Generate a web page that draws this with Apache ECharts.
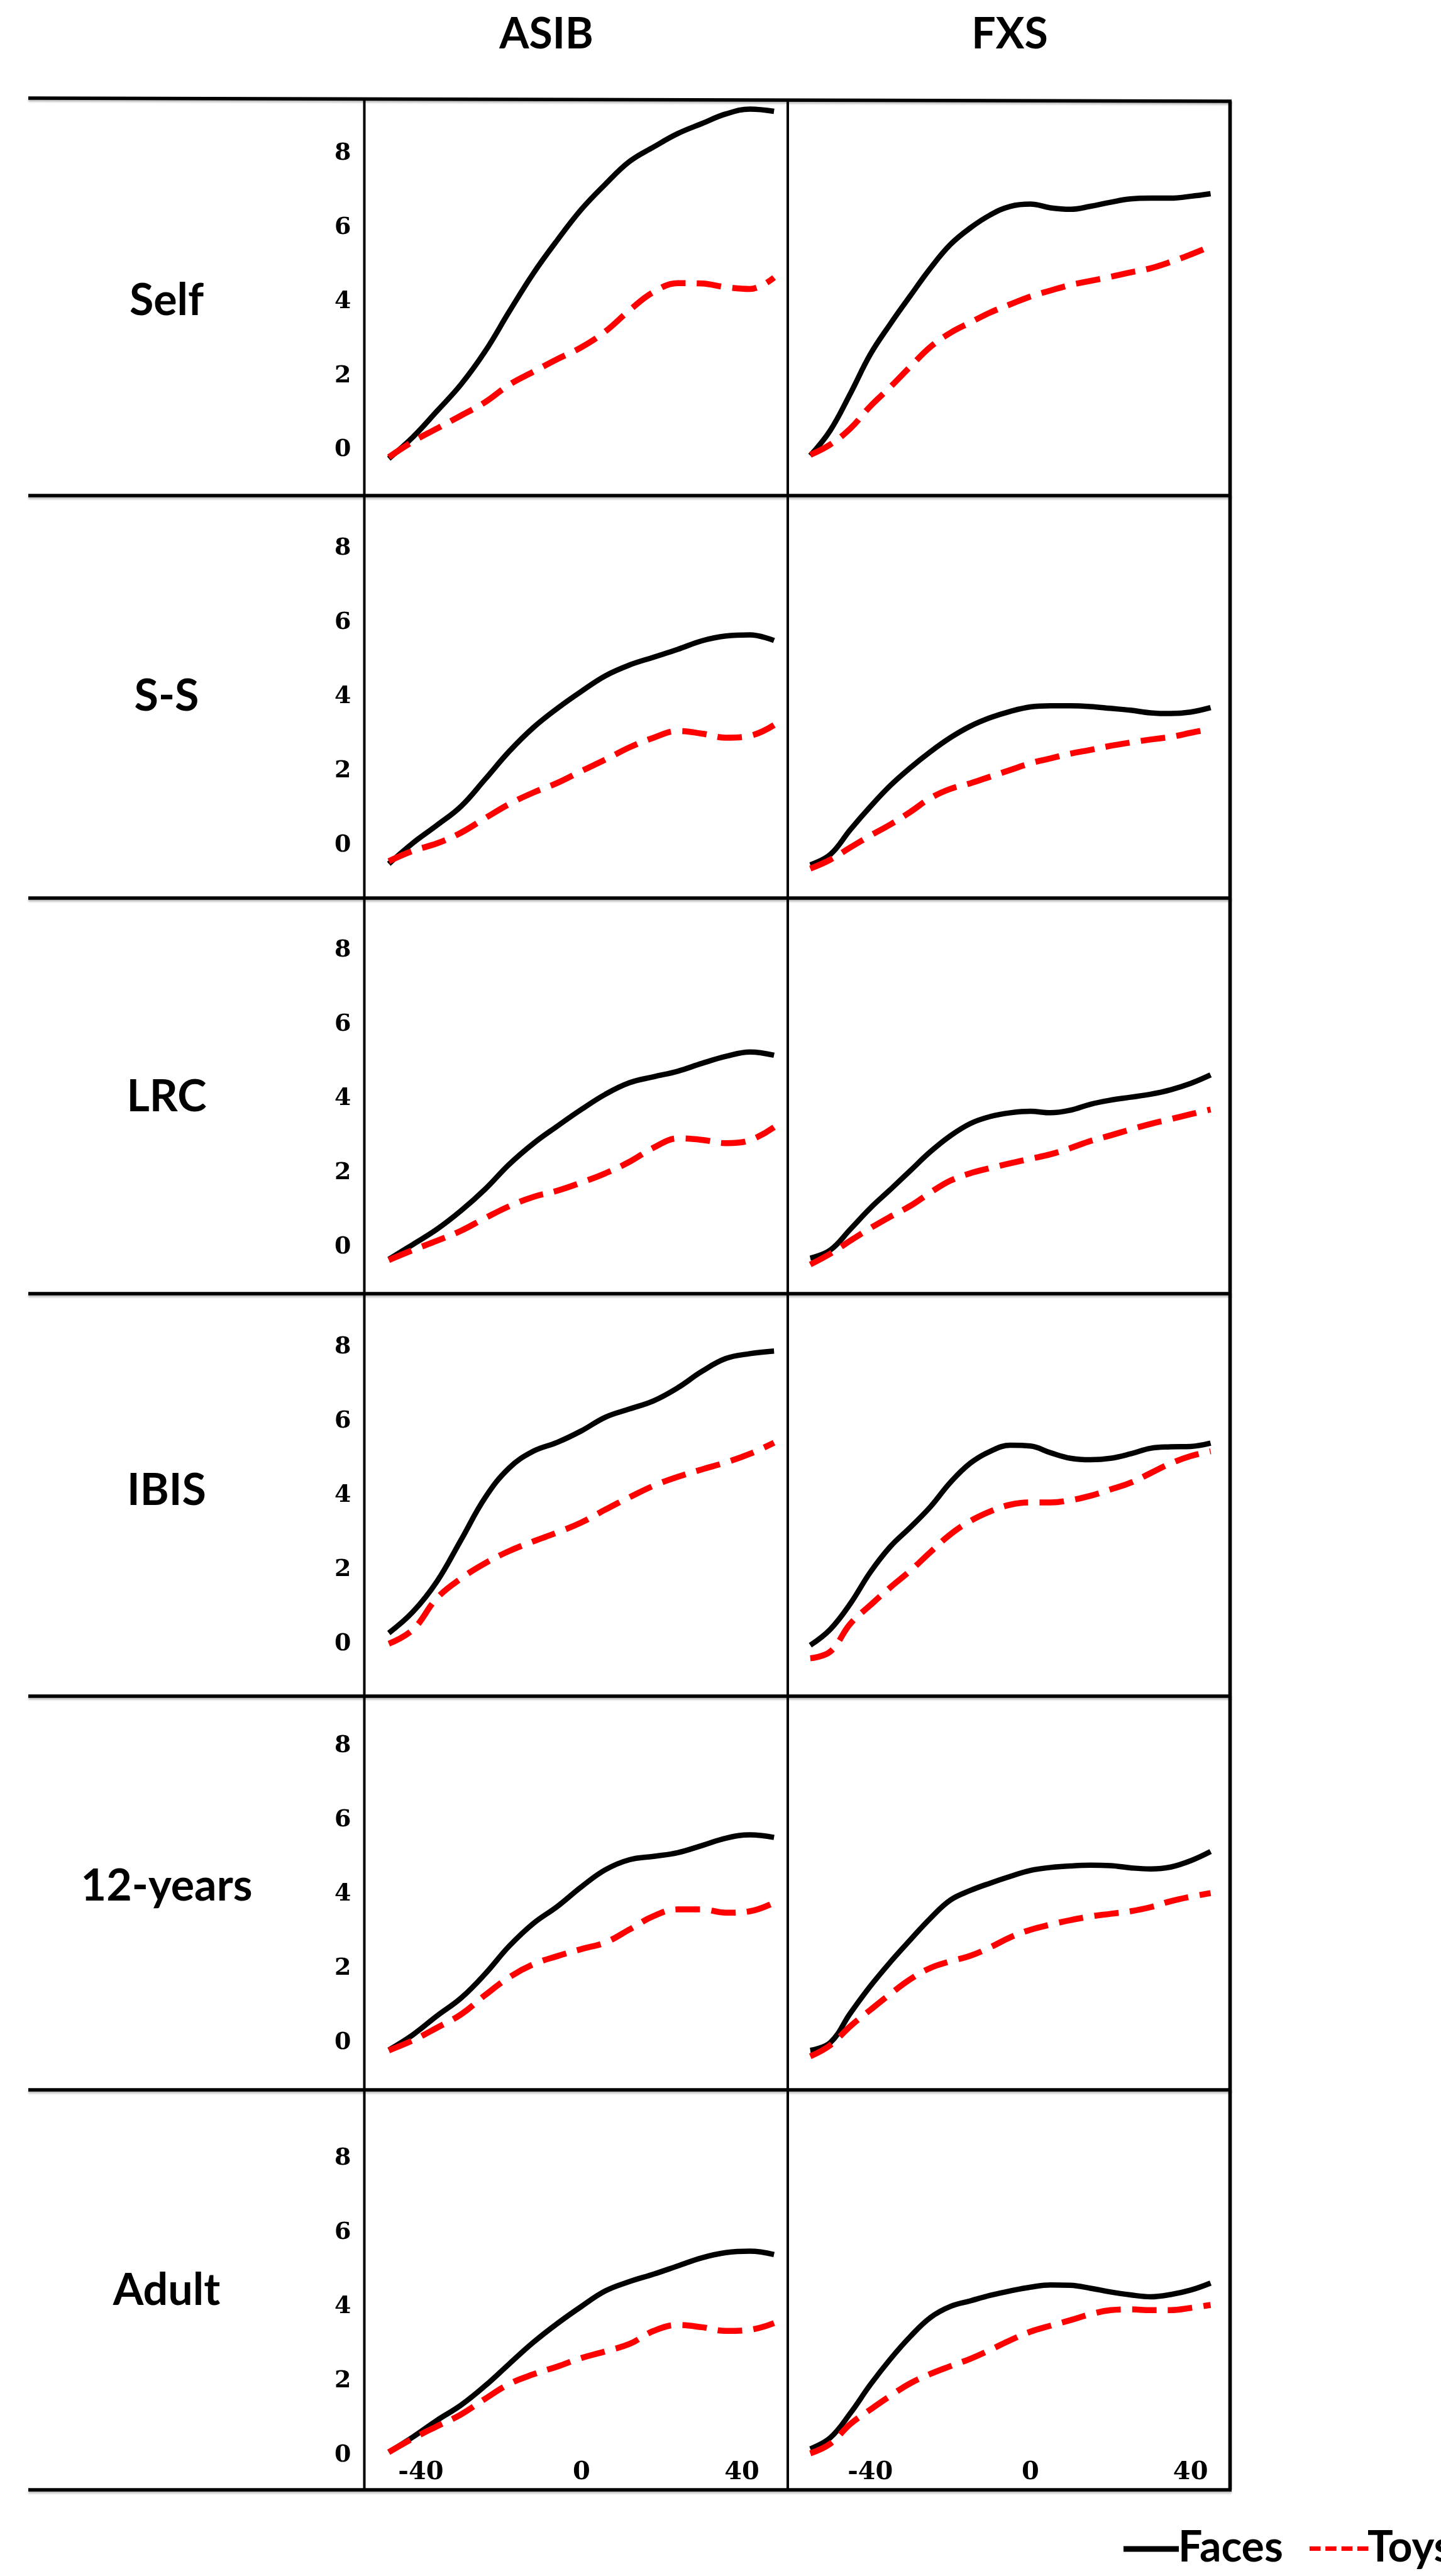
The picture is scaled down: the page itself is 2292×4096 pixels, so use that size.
<!DOCTYPE html>
<html><head><meta charset="utf-8">
<script src="https://cdn.jsdelivr.net/npm/echarts@6/dist/echarts.min.js"></script>
<style>html,body{margin:0;padding:0;background:#fff;}#c{width:2292px;height:4096px;}</style>
</head><body><div id="c"></div>
<script>
// ---------- data ----------
const rowNames = ['Self', 'S-S', 'LRC', 'IBIS', '12-years', 'Adult'];
const groupNames = ['ASIB', 'FXS'];
const seriesNames = ['Faces', 'Toys'];
const xTicks = [-40, 0, 40];
const yTicks = [0, 2, 4, 6, 8];
const xASIB = [-48,-42,-36,-30,-24,-18,-12,-6,0,6,12,18,24,30,36,42,48];
const xFXS = [-55,-50,-45,-40,-35,-30,-25,-20,-15,-10,-5,0,5,10,15,20,25,30,35,40,45];

const selfAsibFaces = [-0.23,0.35,1.05,1.77,2.66,3.73,4.76,5.66,6.49,7.17,7.78,8.17,8.53,8.80,9.06,9.19,9.13];
const selfAsibToys  = [-0.19,0.23,0.58,0.93,1.29,1.76,2.11,2.45,2.77,3.20,3.77,4.26,4.50,4.49,4.39,4.34,4.65];
const selfFxsFaces  = [-0.15,0.53,1.52,2.58,3.40,4.16,4.90,5.54,5.99,6.34,6.57,6.63,6.53,6.49,6.57,6.68,6.77,6.79,6.79,6.84,6.91];
const selfFxsToys   = [-0.13,0.15,0.58,1.18,1.70,2.25,2.78,3.16,3.44,3.71,3.93,4.14,4.30,4.45,4.56,4.67,4.79,4.90,5.07,5.27,5.49];

const ssAsibFaces = [-0.50,0.06,0.54,1.05,1.78,2.53,3.17,3.69,4.15,4.57,4.86,5.07,5.28,5.51,5.64,5.67,5.52];
const ssAsibToys  = [-0.43,-0.15,0.05,0.34,0.73,1.11,1.42,1.68,2.00,2.31,2.64,2.90,3.08,3.01,2.90,2.95,3.24];
const ssFxsFaces  = [-0.53,-0.25,0.42,1.04,1.61,2.09,2.52,2.90,3.21,3.44,3.61,3.73,3.76,3.76,3.74,3.69,3.64,3.57,3.55,3.59,3.71];
const ssFxsToys   = [-0.63,-0.39,-0.06,0.26,0.56,0.90,1.27,1.52,1.67,1.85,2.03,2.21,2.34,2.47,2.57,2.68,2.77,2.85,2.92,3.03,3.14];

const lrcAsibFaces = [-0.33,0.07,0.48,0.98,1.56,2.23,2.79,3.26,3.71,4.12,4.43,4.59,4.74,4.95,5.14,5.26,5.17];
const lrcAsibToys  = [-0.35,-0.08,0.17,0.44,0.78,1.10,1.35,1.52,1.74,1.99,2.30,2.68,2.93,2.89,2.80,2.88,3.23];
const lrcFxsFaces  = [-0.30,-0.08,0.48,1.05,1.55,2.06,2.57,3.00,3.33,3.52,3.62,3.66,3.62,3.69,3.85,3.96,4.04,4.12,4.24,4.41,4.64];
const lrcFxsToys   = [-0.47,-0.18,0.17,0.51,0.82,1.11,1.47,1.79,1.99,2.13,2.26,2.38,2.50,2.67,2.86,3.01,3.17,3.32,3.45,3.58,3.71];

const ibisAsibFaces = [0.29,0.86,1.68,2.80,3.94,4.74,5.19,5.43,5.74,6.11,6.33,6.55,6.90,7.34,7.69,7.82,7.89];
const ibisAsibToys  = [0.00,0.38,1.23,1.76,2.17,2.50,2.76,3.00,3.27,3.62,3.95,4.26,4.50,4.70,4.89,5.12,5.42];
const ibisFxsFaces  = [-0.04,0.39,1.08,1.93,2.62,3.14,3.69,4.35,4.87,5.19,5.35,5.33,5.15,5.00,4.96,5.00,5.12,5.27,5.31,5.32,5.41];
const ibisFxsToys   = [-0.39,-0.21,0.54,1.04,1.52,1.97,2.47,2.95,3.31,3.57,3.75,3.81,3.81,3.87,3.99,4.16,4.34,4.60,4.86,5.06,5.19];

const y12AsibFaces = [-0.20,0.21,0.72,1.20,1.85,2.60,3.21,3.67,4.20,4.66,4.93,5.02,5.12,5.31,5.51,5.60,5.53];
const y12AsibToys  = [-0.21,0.06,0.40,0.76,1.28,1.76,2.11,2.33,2.52,2.70,3.05,3.41,3.59,3.59,3.50,3.54,3.77];
const y12FxsFaces  = [-0.21,0.00,0.79,1.52,2.17,2.77,3.35,3.84,4.10,4.30,4.48,4.64,4.72,4.76,4.78,4.77,4.71,4.68,4.73,4.90,5.15];
const y12FxsToys   = [-0.37,-0.07,0.44,0.88,1.31,1.71,2.01,2.19,2.34,2.57,2.84,3.04,3.18,3.30,3.40,3.47,3.54,3.65,3.81,3.93,4.03];

const adultAsibFaces = [0.08,0.49,0.94,1.35,1.87,2.46,3.04,3.55,4.01,4.43,4.68,4.88,5.10,5.32,5.46,5.50,5.41];
const adultAsibToys  = [0.08,0.45,0.78,1.10,1.52,1.92,2.18,2.39,2.62,2.80,3.00,3.35,3.51,3.45,3.35,3.38,3.56];
const adultFxsFaces  = [0.17,0.47,1.13,1.90,2.59,3.20,3.71,4.01,4.16,4.31,4.43,4.53,4.59,4.58,4.50,4.40,4.32,4.27,4.33,4.45,4.64];
const adultFxsToys   = [0.05,0.31,0.84,1.23,1.60,1.94,2.19,2.40,2.60,2.84,3.10,3.33,3.49,3.64,3.80,3.91,3.93,3.91,3.91,3.97,4.05];

const facesData = [
  [selfAsibFaces, selfFxsFaces], [ssAsibFaces, ssFxsFaces], [lrcAsibFaces, lrcFxsFaces],
  [ibisAsibFaces, ibisFxsFaces], [y12AsibFaces, y12FxsFaces], [adultAsibFaces, adultFxsFaces]
];
const toysData = [
  [selfAsibToys, selfFxsToys], [ssAsibToys, ssFxsToys], [lrcAsibToys, lrcFxsToys],
  [ibisAsibToys, ibisFxsToys], [y12AsibToys, y12FxsToys], [adultAsibToys, adultFxsToys]
];
const xData = [xASIB, xFXS];

// ---------- layout (px) ----------
// x axis: position of -40 and +40 in each column, and the panel's value extent
const colTick40 = [[669.5, 1180.1], [1384.3, 1893.7]];
const colExtent = [[-54, 51.4], [-60, 49.5]];
// y axis: position of value 8 (top of the 0..8 range) in each row
const rowTop8 = [243.7, 872.1, 1511.0, 2141.8, 2775.9, 3432.0];
const plot08H = 471.9;
const yExtent = [-1.2, 9.5];
const hLineY = [[156, 161], [788, 788], [1428, 1428], [2057, 2057], [2697, 2697], [3323, 3323], [3959, 3959]];
const vLineX = [579.5, 1253, 1956.5];
const rowLabelY = [478, 1107, 1744, 2370, 2999, 3642];

const tickFont = {fontFamily: 'DejaVu Serif', fontWeight: 'bold', color: '#000'};
const labelFont = 'Lato';

const grids = [], xAxes = [], yAxes = [], series = [];
const pyu = plot08H / 8;
for (let r = 0; r < 6; r++) {
  for (let c = 0; c < 2; c++) {
    const gi = r * 2 + c;
    const pxu = (colTick40[c][1] - colTick40[c][0]) / 80;
    const left = colTick40[c][0] + (colExtent[c][0] + 40) * pxu;
    const width = (colExtent[c][1] - colExtent[c][0]) * pxu;
    const top = rowTop8[r] - (yExtent[1] - 8) * pyu;
    const height = (yExtent[1] - yExtent[0]) * pyu;
    grids.push({left: left, top: top, width: width, height: height, containLabel: false});
    const xBottomGap = (yExtent[1] - yExtent[0]) * pyu - (yExtent[1]) * pyu; // distance from y=0 to grid bottom
    xAxes.push({
      gridIndex: gi, type: 'value', min: colExtent[c][0], max: colExtent[c][1],
      axisLine: {show: false}, axisTick: {show: false, customValues: xTicks}, splitLine: {show: false},
      axisLabel: Object.assign({show: r === 5, customValues: xTicks, margin: 8 - xBottomGap, fontSize: 40}, tickFont)
    });
    yAxes.push({
      gridIndex: gi, type: 'value', min: yExtent[0], max: yExtent[1],
      axisLine: {show: false}, axisTick: {show: false, customValues: yTicks}, splitLine: {show: false},
      axisLabel: Object.assign({show: c === 0, customValues: yTicks, margin: 111 - 89.4 * 0 + (colTick40[0][0] - 669.5) - (669.5 - left) + 0, fontSize: 38}, tickFont)
    });
    const xs = xData[c];
    series.push({
      name: seriesNames[0], type: 'line', xAxisIndex: gi, yAxisIndex: gi,
      data: xs.map((x, i) => [x, facesData[r][c][i]]),
      smooth: 0.4, showSymbol: false, symbol: 'none', clip: false,
      lineStyle: {color: '#000', width: 8.5}, z: 3
    });
    series.push({
      name: seriesNames[1], type: 'line', xAxisIndex: gi, yAxisIndex: gi,
      data: xs.map((x, i) => [x, toysData[r][c][i]]),
      smooth: 0.4, showSymbol: false, symbol: 'none', clip: false,
      lineStyle: {color: '#ff0000', width: 9.5, type: [39, 18]}, z: 4
    });
  }
}

const graphics = [];
const shadow = {shadowColor: 'rgba(0,0,0,0.25)', shadowBlur: 3, shadowOffsetY: 3};
hLineY.forEach(([y1, y2]) => {
  graphics.push({type: 'line', shape: {x1: 45, y1: y1, x2: 1959, y2: y2},
    style: Object.assign({stroke: '#000', lineWidth: 5.7}, shadow), z: 10});
});
vLineX.forEach((x, i) => {
  graphics.push({type: 'line', shape: {x1: x, y1: i === 2 ? 161 : 157, x2: x, y2: 3959},
    style: {stroke: '#000', lineWidth: i === 2 ? 5.7 : 4}, z: 10});
});
graphics.push({type: 'text', x: 869, y: 55, style: {text: groupNames[0], font: 'bold 68px ' + labelFont, fill: '#000', textAlign: 'center', textVerticalAlign: 'middle'}});
graphics.push({type: 'text', x: 1606, y: 55, style: {text: groupNames[1], font: 'bold 68px ' + labelFont, fill: '#000', textAlign: 'center', textVerticalAlign: 'middle'}});
rowNames.forEach((n, i) => {
  graphics.push({type: 'text', x: 265, y: rowLabelY[i], style: {text: n, font: 'bold 70px ' + labelFont, fill: '#000', textAlign: 'center', textVerticalAlign: 'middle'}});
});
graphics.push({type: 'line', shape: {x1: 1787, y1: 4053, x2: 1875, y2: 4053}, style: {stroke: '#000', lineWidth: 9}});
graphics.push({type: 'text', x: 1874, y: 4051, style: {text: seriesNames[0], font: 'bold 68px ' + labelFont, fill: '#000', textAlign: 'left', textVerticalAlign: 'middle'}});
graphics.push({type: 'text', x: 2079, y: 4051, style: {text: '----', font: 'bold 68px ' + labelFont, fill: '#ff0000', textAlign: 'left', textVerticalAlign: 'middle'}});
graphics.push({type: 'text', x: 2175, y: 4051, style: {text: seriesNames[1], font: 'bold 68px ' + labelFont, fill: '#000', textAlign: 'left', textVerticalAlign: 'middle'}});

const chart = echarts.init(document.getElementById('c'), null, {renderer: 'canvas', width: 2292, height: 4096});
chart.setOption({
  backgroundColor: '#fff',
  animation: false,
  grid: grids, xAxis: xAxes, yAxis: yAxes, series: series,
  graphic: graphics
});
</script></body></html>
